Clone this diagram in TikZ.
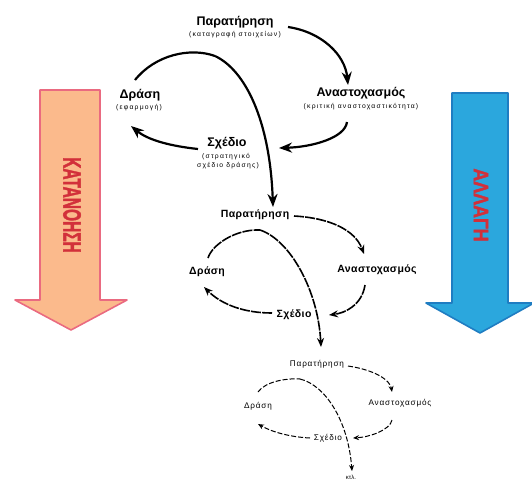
\documentclass[tikz,border=0pt]{standalone}
\usepackage{fontspec}
\setmainfont{Liberation Sans}
\newfontface\heavyface[FakeBold=2]{Liberation Sans Bold}
\newfontface\spacedface[LetterSpace=18]{Liberation Sans}
\newfontface\tinyspaced[LetterSpace=10]{Liberation Sans}
\newfontface\midspaced[LetterSpace=4]{Liberation Sans Bold}
\usetikzlibrary{arrows.meta}
\definecolor{peach}{HTML}{FBBA8C}
\definecolor{peachedge}{HTML}{EA6A80}
\definecolor{skyb}{HTML}{2BA7DD}
\definecolor{skyedge}{HTML}{1F7DC2}
\definecolor{wordred}{HTML}{D2303A}
\begin{document}
\begin{tikzpicture}[x=1pt,y=-1pt,
  tA/.style={inner sep=0pt,font=\fontsize{12.5}{13}\selectfont\bfseries},
  sA/.style={inner sep=0pt,font=\fontsize{6.8}{7}\spacedface},
  tB/.style={inner sep=0pt,font=\fontsize{10.5}{11}\midspaced},
  tC/.style={inner sep=0pt,font=\fontsize{8.2}{9}\tinyspaced},
  arA/.style={line width=2.2pt,-{Stealth[length=13pt,width=10pt]}},
  lnA/.style={line width=2.2pt},
  arB/.style={line width=1.6pt,dash pattern=on 10pt off 1.2pt,-{Stealth[length=9pt,width=7pt]}},
  lnB/.style={line width=1.6pt,dash pattern=on 10pt off 1.2pt},
  arC/.style={line width=1pt,dash pattern=on 5pt off 2pt,-{Stealth[length=6pt,width=5pt]}},
  lnC/.style={line width=1pt,dash pattern=on 5pt off 2pt},
  bigarrow/.style={line width=1.6pt,line join=round}
]
\useasboundingbox (0,0) rectangle (532,480);
% big arrows
\draw[bigarrow,fill=peach,draw=peachedge] (40,90) -- (100,90) -- (100,300) -- (127,300) -- (71,330) -- (15,300) -- (40,300) -- cycle;
\node[rotate=-90,inner sep=0pt,text=wordred] (kat) at (72,205) {\scalebox{0.62}[1]{\fontsize{25}{25}\heavyface ΚΑΤΑΝΟΗΣΗ}};
\draw[bigarrow,fill=skyb,draw=skyedge] (452,93) -- (508,93) -- (508,303) -- (534,303) -- (480,333) -- (426,303) -- (452,303) -- cycle;
\node[rotate=-90,inner sep=0pt,text=wordred] (all) at (481,205) {\scalebox{0.85}[1]{\fontsize{21}{21}\heavyface ΑΛΛΑΓΗ}};

% top cycle
\node[tA] (p1) at (235,22) {Παρατήρηση};
\node[sA] (p1s) at (235,35) {(καταγραφή στοιχείων)};
\node[tA] (a1) at (361,93) {Αναστοχασμός};
\node[sA] (a1s) at (361,107) {(κριτική αναστοχαστικότητα)};
\node[tA] (x1) at (227,143) {Σχέδιο};
\node[sA] (x1s) at (226,157) {(στρατηγικό};
\node[sA] (x1t) at (228,166) {σχέδιο δράσης)};
\node[tA] (d1) at (140,95) {Δράση};
\node[sA] (d1s) at (139,108) {(εφαρμογή)};
\coordinate (q1) at (288,27);
\coordinate (q2) at (348,85);
\coordinate (q3) at (347,122);
\coordinate (q4) at (279,148);
\coordinate (q5) at (198,149);
\coordinate (q6) at (131,126);
\coordinate (q7) at (135,80);
\coordinate (q8) at (215,56);
\coordinate (q9) at (273,207);
\draw[arA] (q1) .. controls (322,32) and (345,55) .. (q2);
\draw[arA] (q3) .. controls (345,138) and (312,147) .. (q4);
\draw[arA] (q5) .. controls (170,146) and (148,140) .. (q6);
\draw[lnA] (q7) .. controls (155,55) and (190,47) .. (q8);
\draw[arA] (q8) .. controls (245,70) and (270,120) .. (q9);

% middle cycle
\node[tB] (p2) at (255,215) {Παρατήρηση};
\node[tB] (a2) at (377,270) {Αναστοχασμός};
\node[tB] (x2) at (294,315) {Σχέδιο};
\node[tB] (d2) at (207,272) {Δράση};
\coordinate (m1) at (294,216);
\coordinate (m2) at (364,254);
\coordinate (m3) at (365,285);
\coordinate (m4) at (329,315);
\coordinate (m5) at (272,313);
\coordinate (m6) at (204,287);
\coordinate (m7) at (208,258);
\coordinate (m8) at (260,230);
\coordinate (m9) at (321,347);
\draw[arB] (m1) .. controls (330,218) and (355,230) .. (m2);
\draw[arB] (m3) .. controls (362,305) and (345,313) .. (m4);
\draw[arB] (m5) .. controls (245,313) and (222,305) .. (m6);
\draw[lnB] (m7) .. controls (212,245) and (235,229) .. (m8);
\draw[arB] (m8) .. controls (290,240) and (318,290) .. (m9);

% bottom cycle
\node[tC] (p3) at (317,364) {Παρατήρηση};
\node[tC] (a3) at (400,403) {Αναστοχασμός};
\node[tC] (x3) at (328,438) {Σχέδιο};
\node[tC] (d3) at (258,406) {Δράση};
\node[inner sep=0pt,font=\fontsize{6}{7}\selectfont] (k3) at (351,477) {κτλ.};
\coordinate (b1) at (348,366);
\coordinate (b2) at (392,392);
\coordinate (b3) at (392,420);
\coordinate (b4) at (353,438);
\coordinate (b5) at (310,438);
\coordinate (b6) at (258,424);
\coordinate (b7) at (258,392);
\coordinate (b8) at (300,379);
\coordinate (b9) at (352,471);
\draw[arC] (b1) .. controls (375,370) and (390,380) .. (b2);
\draw[arC] (b3) .. controls (390,430) and (370,437) .. (b4);
\draw[arC] (b5) .. controls (290,437) and (272,432) .. (b6);
\draw[lnC] (b7) .. controls (265,382) and (285,378) .. (b8);
\draw[arC] (b8) .. controls (325,385) and (348,420) .. (b9);
\end{tikzpicture}
\end{document}
